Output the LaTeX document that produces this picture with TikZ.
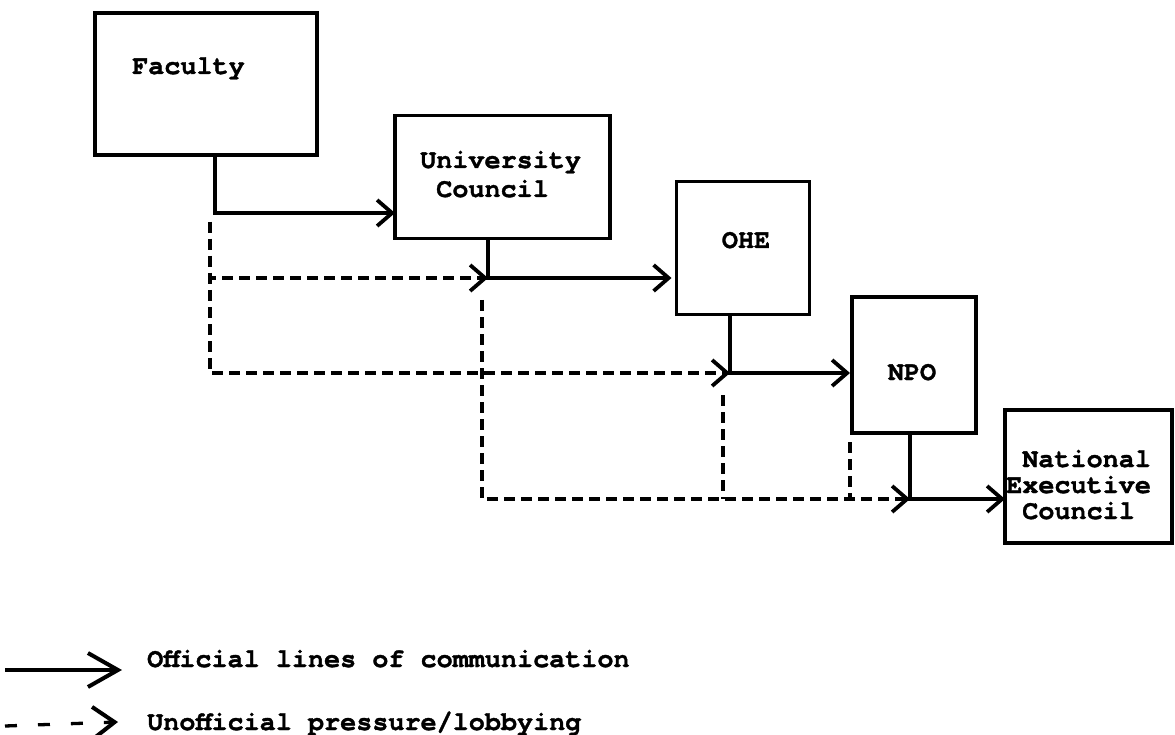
\documentclass[tikz,border=0pt]{standalone}
\usepackage{fontspec}
\setmainfont{TeX Gyre Cursor}[BoldFeatures={FakeBold=1.3}]
\usetikzlibrary{arrows.meta}
\begin{document}
\begin{tikzpicture}[x=1pt,y=-1pt,
  box/.style={draw, line width=3.3pt, outer sep=0pt, inner sep=0pt},
  txt/.style={font=\fontsize{26.8}{30}\selectfont\bfseries, inner sep=0pt},
  official/.style={line width=3.3pt, -{Straight Barb[length=15pt,width=26pt,line width=3.8pt]}},
  offline/.style={line width=3.3pt},
  unoff/.style={line width=3.3pt, dash pattern=on 11pt off 6pt, -{Straight Barb[length=15pt,width=26pt,line width=3.8pt]}},
  unoffline/.style={line width=3.3pt, dash pattern=on 11pt off 6pt},
  legoff/.style={line width=3.3pt, -{Straight Barb[length=30pt,width=34pt,line width=4pt]}},
  legun/.style={line width=3.3pt, dash pattern=on 12pt off 21pt, -{Straight Barb[length=22pt,width=32pt,line width=4pt]}}
]
\useasboundingbox (0,0) rectangle (1175,735);

% boxes
\node[box, minimum width=222pt, minimum height=142pt] (fac) at (206,84) {};
\node[box, minimum width=215pt, minimum height=123pt] (uc) at (502.5,177) {};
\node[box, minimum width=133pt, minimum height=133pt] (ohe) at (743,248) {};
\node[box, minimum width=124pt, minimum height=136pt] (npo) at (914,365) {};
\node[box, minimum width=167pt, minimum height=133pt] (nec) at (1088.5,476.5) {};

% labels
\node[txt, anchor=base west] (facT) at (132,74) {Faculty};
\node[txt, anchor=base west] (ucT1) at (420,168) {University};
\node[txt, anchor=base west] (ucT2) at (420,197) {\hphantom{C}Council};
\node[txt, anchor=base] (oheT) at (746,248) {OHE};
\node[txt, anchor=base] (npoT) at (912,380) {NPO};
\node[txt, anchor=base west] (necT1) at (1006,467) {\hphantom{C}National};
\node[txt, anchor=base west] (necT2) at (1006,493) {Executive};
\node[txt, anchor=base west] (necT3) at (1006,519) {\hphantom{C}Council};

% junction points
\coordinate (j1) at (215,213);
\coordinate (j2) at (488,278);
\coordinate (j3) at (730,373);
\coordinate (j4) at (910,499);

% official lines
\draw[official] (fac.south -| j1) |- (uc.west |- j1);
\draw[official] (uc.south -| j2) |- ([xshift=-5pt]ohe.west |- j2);
\draw[official] (ohe.south -| j3) |- ([xshift=-2pt]npo.west |- j3);
\draw[official] (npo.south -| j4) |- (nec.west |- j4);

% unofficial lines
\coordinate (fd) at (210,222);
\coordinate (ud) at (482,300);
\coordinate (od) at (723,395);
\coordinate (nd) at (850,442);
\draw[unoff] (fd) |- (j2);
\draw[unoff] (fd) |- (j3);
\draw[unoff] (ud) |- (j4);
\draw[unoffline] (od) -- (od |- j4);
\draw[unoffline] (nd) -- (nd |- j4);

% legend
\coordinate (l1s) at (5,670);
\coordinate (l1e) at (122,670);
\coordinate (l2s) at (5,726);
\coordinate (l2e) at (118,722);
\draw[legoff] (l1s) -- (l1e);
\draw[legun] (l2s) -- (l2e);
\node[txt, anchor=base west] (legT1) at (147,667) {Official lines of communication};
\node[txt, anchor=base west] (legT2) at (147,730) {Unofficial pressure/lobbying};
\end{tikzpicture}
\end{document}
